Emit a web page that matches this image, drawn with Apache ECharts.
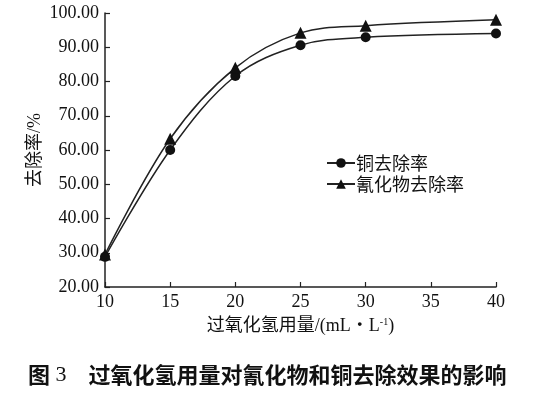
<!DOCTYPE html>
<html><head><meta charset="utf-8">
<script src="https://cdn.jsdelivr.net/npm/echarts@6/dist/echarts.min.js"></script>
<style>html,body{margin:0;padding:0;background:#fff}#c{width:536px;height:393px}</style>
</head><body><div id="c"></div>
<script>
const xValues = [10, 15, 20, 25, 30, 40];
const copperRemoval = [28.8, 60.0, 81.6, 90.6, 92.9, 94.0];
const cyanideRemoval = [29.5, 63.3, 84.0, 94.2, 96.3, 98.0];
const seriesNames = ['铜去除率', '氰化物去除率'];
const xTicks = [10, 15, 20, 25, 30, 35, 40];
const yTicks = [20, 30, 40, 50, 60, 70, 80, 90, 100];

const serif = '"Liberation Serif", "Noto Sans CJK SC", serif';
const cjk = '"Noto Sans CJK SC", sans-serif';
const chart = echarts.init(document.getElementById('c'));
chart.setOption({
  animation: false,
  backgroundColor: '#fff',
  grid: {left: 105, top: 13, right: 40, bottom: 106},
  legend: {
    left: 321, top: 149, orient: 'vertical', itemGap: 3,
    itemWidth: 28, itemHeight: 12,
    textStyle: {fontFamily: cjk, fontSize: 18, color: '#111', padding: [0,0,0,-4]},
    data: seriesNames
  },
  xAxis: {
    type: 'value', min: 10, max: 40, interval: 5,
    axisLine: {lineStyle: {color: '#222', width: 1.5}},
    axisTick: {inside: true, length: 5, lineStyle: {color: '#222', width: 1.2}},
    splitLine: {show: false},
    axisLabel: {fontFamily: serif, fontSize: 18, color: '#111', margin: 6,
      formatter: v => xTicks.includes(v) ? String(v) : ''},
    name: '{a|过氧化氢用量/(mL・L}{s|-1}{a|)}',
    nameLocation: 'middle', nameGap: 30,
    nameTextStyle: {rich: {
      a: {fontFamily: serif, fontSize: 18, color: '#111'},
      s: {fontFamily: serif, fontSize: 10, color: '#111', verticalAlign: 'top', padding: [0,0,8,0]}
    }}
  },
  yAxis: {
    type: 'value', min: 20, max: 100, interval: 10,
    axisLine: {show: true, lineStyle: {color: '#222', width: 1.5}},
    axisTick: {show: true, inside: true, length: 5, lineStyle: {color: '#222', width: 1.2}},
    splitLine: {show: false},
    axisLabel: {fontFamily: serif, fontSize: 18, color: '#111', margin: 6,
      formatter: v => yTicks.includes(v) ? v.toFixed(2) : ''},
    name: '去除率/%', nameLocation: 'middle', nameGap: 61, nameMoveOverlap: false,
    nameTextStyle: {fontFamily: serif, fontSize: 18, color: '#111'}
  },
  series: [
    {
      name: seriesNames[0], type: 'line', smooth: 0.35,
      data: xValues.map((x, i) => [x, copperRemoval[i]]),
      symbol: 'circle', symbolSize: 10,
      lineStyle: {color: '#222', width: 1.5},
      itemStyle: {color: '#111'}
    },
    {
      name: seriesNames[1], type: 'line', smooth: 0.35,
      data: xValues.map((x, i) => [x, cyanideRemoval[i]]),
      symbol: 'triangle', symbolSize: 12,
      lineStyle: {color: '#222', width: 1.5},
      itemStyle: {color: '#111'}
    }
  ],
  graphic: [{
    type: 'text', left: 28, top: 364,
    style: {
      text: '{n|图}{d| 3}{g|}{t|过氧化氢用量对氰化物和铜去除效果的影响}',
      rich: {
        n: {fontFamily: cjk, fontWeight: 'bold', fontSize: 22, fill: '#111'},
        d: {fontFamily: '"Liberation Serif"', fontSize: 22, fill: '#111'},
        g: {width: 22},
        t: {fontFamily: cjk, fontWeight: 'bold', fontSize: 22, fill: '#111'}
      }
    }
  }]
});
</script></body></html>
